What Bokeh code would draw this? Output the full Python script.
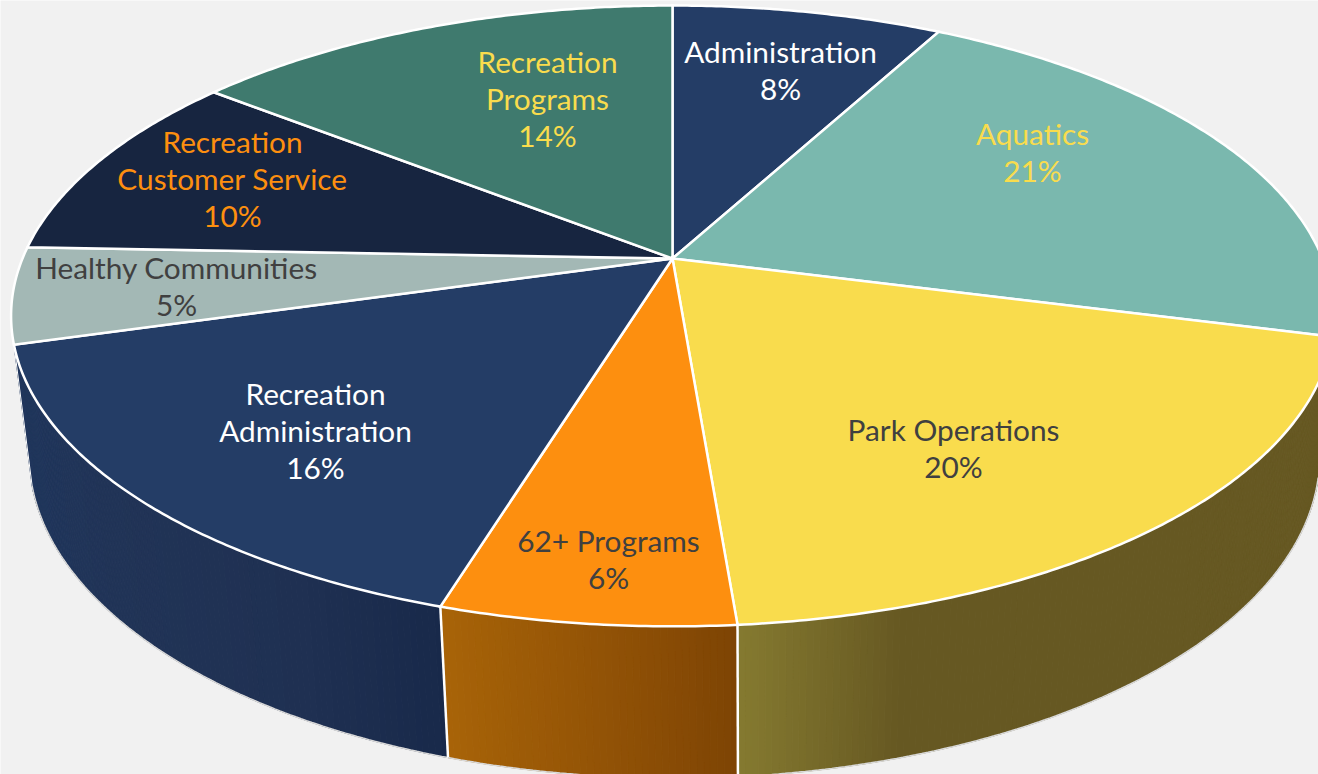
import math
from bokeh.plotting import figure
from bokeh.embed import file_html
from bokeh.resources import INLINE
from bokeh.core.properties import value

# ---- chart data -------------------------------------------------------
categories = ["Administration", "Aquatics", "Park Operations", "62+ Programs",
              "Recreation Administration", "Healthy Communities",
              "Recreation Customer Service", "Recreation Programs"]
shares = [7.9, 21.1, 19.7, 6.05, 15.85, 5.0, 10.0, 14.4]
percent_labels = ["8%", "21%", "20%", "6%", "16%", "5%", "10%", "14%"]
label_lines = [["Administration"], ["Aquatics"], ["Park Operations"], ["62+ Programs"],
               ["Recreation", "Administration"], ["Healthy Communities"],
               ["Recreation", "Customer Service"], ["Recreation", "Programs"]]

# ---- styles and layout ------------------------------------------------
top_colors = ["#243d66", "#7ab8ae", "#f9dc4d", "#fd8f0f",
              "#243d66", "#a3b8b5", "#172540", "#3f7a6e"]
text_colors = ["#ffffff", "#f9dc4d", "#404040", "#404040",
               "#ffffff", "#404040", "#fd8f0f", "#f9dc4d"]
wall_stops = {2: [(738, "#857a30"), (900, "#665822"), (1330, "#665822")],
              3: [(440, "#a96408"), (737, "#7e4404")],
              4: [(20, "#20365c"), (110, "#213457"), (300, "#1f3052"), (445, "#18294a")]}
label_x = [780, 1032, 953, 608, 315, 176, 232, 547]
label_top = [51, 133, 429, 540, 393, 267, 141, 61]
LINE_STEP = 37
BG = "#f1f1f1"
K = 0.185  # perspective of the disc
TOP = dict(cx=672, cy=258, b=650, a=299.8)
BOTTOM = dict(cx=674, cy=396, b=634, a=311)


def project(deg, d):
    t = math.radians(deg)
    u, v = math.sin(t), math.cos(t)
    w = 1 + K * v
    return d["cx"] + d["b"] * u / w, d["cy"] - d["a"] * v / w


def hex2rgb(h):
    return tuple(int(h[i:i + 2], 16) for i in (1, 3, 5))


def grad(stops, x):
    if x <= stops[0][0]:
        return stops[0][1]
    for (x0, c0), (x1, c1) in zip(stops, stops[1:]):
        if x <= x1:
            f = (x - x0) / (x1 - x0)
            a, b = hex2rgb(c0), hex2rgb(c1)
            return "#%02x%02x%02x" % tuple(round(p + (q - p) * f) for p, q in zip(a, b))
    return stops[-1][1]


# ---- cumulative angles from the values --------------------------------
total = sum(shares)
edges = [0.0]
for s in shares:
    edges.append(edges[-1] + 360.0 * s / total)

p = figure(width=1318, height=774, output_backend="svg", toolbar_location=None,
           x_range=(0, 1318), y_range=(774, 0), min_border=0,
           background_fill_color=BG, border_fill_color=BG, outline_line_color=None)
p.axis.visible = False
p.grid.visible = False

# ---- side walls -------------------------------------------------------
for i, stops in wall_stops.items():
    a0, a1 = edges[i], edges[i + 1]
    n = max(2, int((a1 - a0) * 2))
    xs, ys, cs = [], [], []
    for j in range(n):
        s0 = a0 + (a1 - a0) * j / n
        s1 = a0 + (a1 - a0) * (j + 1) / n
        t0, t1 = project(s0, TOP), project(s1, TOP)
        b0, b1 = project(s0, BOTTOM), project(s1, BOTTOM)
        xs.append([t0[0], t1[0], b1[0], b0[0]])
        ys.append([t0[1], t1[1], b1[1], b0[1]])
        cs.append(grad(stops, (t0[0] + t1[0] + b0[0] + b1[0]) / 4))
    p.patches(xs, ys, fill_color=cs, line_color=cs, line_width=1)
    # outer bottom rim
    arc = [project(a0 + (a1 - a0) * j / n, BOTTOM) for j in range(n + 1)]
    p.line([q[0] for q in arc], [q[1] for q in arc], line_color="#d9d9d9", line_width=1.5)

# separators between walls
for i in (3, 4):
    t, b = project(edges[i], TOP), project(edges[i], BOTTOM)
    p.line([t[0], b[0]], [t[1], b[1]], line_color="#ffffff", line_width=2.5)
t, b = project(edges[5], TOP), project(edges[5], BOTTOM)
p.line([t[0], b[0]], [t[1], b[1]], line_color="#ffffff", line_width=1)

# ---- top face ---------------------------------------------------------
xs, ys = [], []
for i in range(len(shares)):
    a0, a1 = edges[i], edges[i + 1]
    n = max(2, int((a1 - a0) * 2))
    arc = [project(a0 + (a1 - a0) * j / n, TOP) for j in range(n + 1)]
    xs.append([TOP["cx"]] + [q[0] for q in arc])
    ys.append([TOP["cy"]] + [q[1] for q in arc])
p.patches(xs, ys, fill_color=top_colors, line_color="#ffffff", line_width=2.5,
          line_join="miter")

# ---- labels -----------------------------------------------------------
for lines, pct, x, y0, col in zip(label_lines, percent_labels, label_x, label_top, text_colors):
    for k, t in enumerate(lines + [pct]):
        p.text([x], [y0 + k * LINE_STEP], text=[t], text_color=col,
               text_font=value("Lato"), text_font_size="29.8px",
               text_align="center", text_baseline="middle")

open("out.html", "w").write(file_html(p, INLINE))
